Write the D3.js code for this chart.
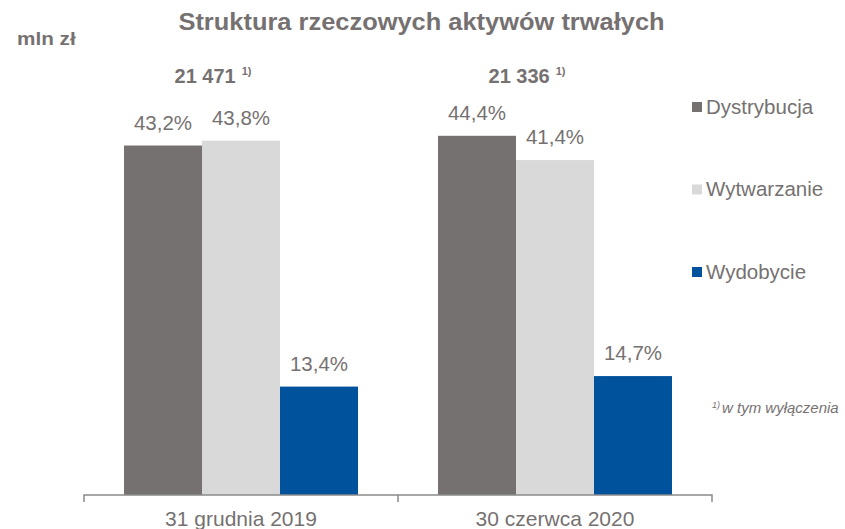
<!DOCTYPE html>
<html>
<head>
<meta charset="utf-8">
<script src="https://cdn.jsdelivr.net/npm/d3@7"></script>
<style>
  html, body { margin: 0; padding: 0; background: #fff; }
  svg { display: block; font-family: "Liberation Sans", Arial, sans-serif; }
</style>
</head>
<body>
<svg id="chart" width="845" height="529"></svg>
<script>
const categories = ["31 grudnia 2019", "30 czerwca 2020"];
const series = ["Dystrybucja", "Wytwarzanie", "Wydobycie"];
const dystrybucja = [43.2, 44.4];
const wytwarzanie = [43.8, 41.4];
const wydobycie = [13.4, 14.7];
const totals = ["21 471", "21 336"];
const colors = ["#767171", "#d9d9d9", "#00529c"];
const titleText = "Struktura rzeczowych aktywów trwałych";
const unitText = "mln zł";
const footnoteText = "w tym wyłączenia";

const valuesBySeries = [dystrybucja, wytwarzanie, wydobycie];
const fmt = v => v.toFixed(1).replace(".", ",") + "%";
const textColor = "#767171";

const svg = d3.select("#chart");
const baseY = 495;

const x0 = d3.scaleBand().domain(categories).range([84, 712]).padding(0);
const x1 = d3.scaleBand().domain(series).range([0, x0.bandwidth()]).paddingInner(0).paddingOuter(0.513);
const y = d3.scaleLinear().domain([0, 50]).range([baseY, baseY - 404.5]);
const color = d3.scaleOrdinal().domain(series).range(colors);

// Title
svg.append("text")
  .attr("transform", "translate(421.5,30) scale(1.06,1)")
  .attr("text-anchor", "middle")
  .attr("font-size", 24).attr("font-weight", "bold")
  .attr("fill", textColor)
  .text(titleText);

// Unit
svg.append("text")
  .attr("transform", "translate(17,45) scale(1.12,1)")
  .attr("font-size", 18.5).attr("font-weight", "bold")
  .attr("fill", textColor)
  .text(unitText);

// Bars
const data = [];
categories.forEach((c, i) => {
  series.forEach((s, j) => data.push({ cat: c, ser: s, val: valuesBySeries[j][i] }));
});

const g = svg.append("g");
g.selectAll("rect").data(data).join("rect")
  .attr("x", d => x0(d.cat) + x1(d.ser))
  .attr("y", d => y(d.val))
  .attr("width", x1.bandwidth())
  .attr("height", d => y(0) - y(d.val))
  .attr("fill", d => color(d.ser));

g.selectAll("text.val").data(data).join("text")
  .attr("class", "val")
  .attr("x", d => x0(d.cat) + x1(d.ser) + x1.bandwidth() / 2)
  .attr("y", d => y(d.val) - 16)
  .attr("text-anchor", "middle")
  .attr("font-size", 20.5)
  .attr("fill", textColor)
  .text(d => fmt(d.val));

// Totals
categories.forEach((c, i) => {
  const t = svg.append("text")
    .attr("x", x0(c) + x0.bandwidth() / 2 - 28)
    .attr("y", 83)
    .attr("text-anchor", "middle")
    .attr("font-size", 20).attr("font-weight", "bold")
    .attr("fill", textColor);
  t.append("tspan").text(totals[i]);
  t.append("tspan").attr("dx", 6).attr("dy", -8).attr("font-size", 11).text("1)");
});

// Axis
const [r0, r1] = x0.range();
const axisPath = d3.path();
axisPath.moveTo(r0, baseY + 7);
axisPath.lineTo(r0, baseY);
axisPath.lineTo(r1, baseY);
axisPath.lineTo(r1, baseY + 7);
svg.append("path").attr("d", axisPath.toString())
  .attr("fill", "none").attr("stroke", "#8a8a8a").attr("stroke-width", 1.5);
svg.append("line")
  .attr("x1", x0(categories[1])).attr("x2", x0(categories[1]))
  .attr("y1", baseY).attr("y2", baseY + 7)
  .attr("stroke", "#8a8a8a").attr("stroke-width", 1.5);

svg.selectAll("text.cat").data(categories).join("text")
  .attr("class", "cat")
  .attr("x", d => x0(d) + x0.bandwidth() / 2)
  .attr("y", 526)
  .attr("text-anchor", "middle")
  .attr("font-size", 21)
  .attr("fill", textColor)
  .text(d => d);

// Legend
const legend = svg.append("g").attr("transform", "translate(692,102)");
const li = legend.selectAll("g").data(series).join("g")
  .attr("transform", (d, i) => `translate(0,${i * 82.5})`);
li.append("rect").attr("width", 10).attr("height", 10).attr("fill", d => color(d));
li.append("text").attr("x", 14).attr("y", 11.5)
  .attr("font-size", 20.5).attr("fill", textColor)
  .text(d => d);

// Footnote
const fn = svg.append("text")
  .attr("x", 712).attr("y", 413)
  .attr("font-size", 15).attr("font-style", "italic")
  .attr("fill", textColor);
fn.append("tspan").attr("font-size", 9).attr("dy", -5).text("1)");
fn.append("tspan").attr("dy", 5).attr("dx", 2).text(footnoteText);
</script>
</body>
</html>
